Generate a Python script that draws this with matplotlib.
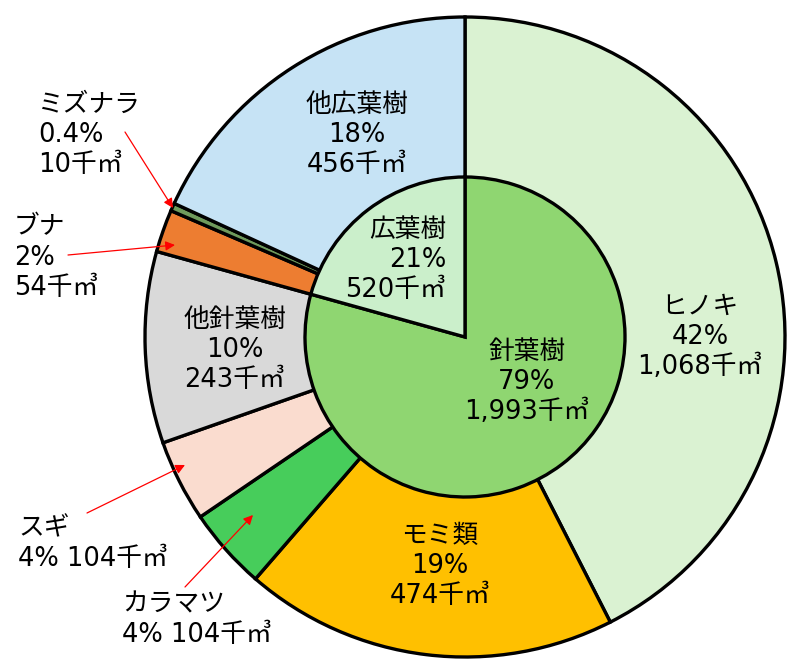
import matplotlib

matplotlib.use("Agg")
import matplotlib.pyplot as plt

plt.rcParams["font.family"] = ["DejaVu Sans", "Noto Sans CJK JP"]

# outer ring, clockwise from 12 o'clock (千m3)
species = ["ヒノキ", "モミ類", "カラマツ", "スギ", "他針葉樹", "ブナ", "ミズナラ", "他広葉樹"]
species_volume = [1068, 474, 104, 104, 243, 54, 10, 456]
species_pct = ["42%", "19%", "4%", "4%", "10%", "2%", "0.4%", "18%"]
species_colors = ["#daf2d2", "#ffc000", "#47cd5b", "#fadccf", "#d9d9d9", "#ed7d31", "#6f9a5c", "#c6e3f5"]

# inner pie
groups = ["針葉樹", "広葉樹"]
group_volume = [1993, 520]
group_pct = ["79%", "21%"]
group_colors = ["#8fd671", "#cbefcb"]

W, H = 797, 664
CX, CY, R = 465, 337, 320


def px(x, y):
    return (x - CX) / R, (CY - y) / R


def vol(v):
    return f"{v:,}千㎥"


fig = plt.figure(figsize=(W / 100, H / 100), dpi=100)
ax = fig.add_axes([0, 0, 1, 1])

edge = dict(edgecolor="black", linewidth=2.4)
ax.pie(species_volume, colors=species_colors, startangle=90, counterclock=False,
       radius=1.0, wedgeprops=edge)
ax.pie(group_volume, colors=group_colors, startangle=90, counterclock=False,
       radius=0.5, wedgeprops=edge)

ax.set_xlim(-CX / R, (W - CX) / R)
ax.set_ylim(-(H - CY) / R, CY / R)
ax.set_aspect("equal")
ax.axis("off")

fs = 18.5
ls = 1.22

# labels inside the wedges
inside = {
    "ヒノキ": (700, 337, "center"),
    "モミ類": (440, 566, "center"),
    "他針葉樹": (235, 350, "center"),
    "他広葉樹": (357, 135, "center"),
}
for name, (x, y, ha) in inside.items():
    i = species.index(name)
    ax.text(*px(x, y), f"{name}\n{species_pct[i]}\n{vol(species_volume[i])}",
            ha=ha, va="center", fontsize=fs, linespacing=ls, multialignment="center")

ax.text(*px(446, 260), f"{groups[1]}\n{group_pct[1]}\n{vol(group_volume[1])}",
        ha="right", va="center", fontsize=fs, linespacing=ls, multialignment="right")
ax.text(*px(527, 382), f"{groups[0]}\n{group_pct[0]}\n{vol(group_volume[0])}",
        ha="center", va="center", fontsize=fs, linespacing=ls, multialignment="center")

# small slices: labels outside with red arrows
arrow = dict(arrowstyle="-|>", color="red", lw=0.9, mutation_scale=14, shrinkA=0, shrinkB=0)
callouts = {
    "ミズナラ": ((38, 135), (125, 132), (173, 208), "\n"),
    "ブナ": ((14, 258), (68, 255), (175, 245), "\n"),
    "スギ": ((18, 544), (87, 513), (185, 465), " "),
    "カラマツ": ((122, 620), (185, 587), (253, 515), " "),
}
for name, (pos, tail, head, sep) in callouts.items():
    i = species.index(name)
    ax.text(*px(*pos), f"{name}\n{species_pct[i]}{sep}{vol(species_volume[i])}",
            ha="left", va="center", fontsize=fs, linespacing=ls)
    ax.annotate("", xy=px(*head), xytext=px(*tail), arrowprops=arrow)

fig.savefig("out.png", dpi=100, facecolor="white")
